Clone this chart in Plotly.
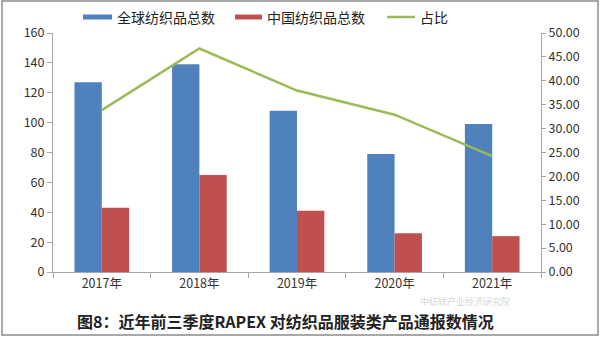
import plotly.graph_objects as go

categories = ["2017年", "2018年", "2019年", "2020年", "2021年"]
global_total = [127, 139, 108, 79, 99]
china_total = [43, 65, 41, 26, 24]
share = [33.86, 46.76, 37.96, 32.91, 24.24]

left_ticks = [0, 20, 40, 60, 80, 100, 120, 140, 160]
right_ticks = [0, 5, 10, 15, 20, 25, 30, 35, 40, 45, 50]

names = ["全球纺织品总数", "中国纺织品总数", "占比"]
colors = ["#4F81BD", "#C0504D", "#9BBB59"]

FONT = "Noto Sans CJK SC, DejaVu Sans, sans-serif"

L, R, T, B = 53, 59, 33, 65
W, H = 600, 337
PW, PH = W - L - R, H - T - B

def px(x):
    return (x - L) / PW

def py(y):
    return (H - B - y) / PH

fig = go.Figure()
fig.add_trace(go.Bar(x=categories, y=global_total, name=names[0],
                     marker=dict(color=colors[0], line=dict(width=0))))
fig.add_trace(go.Bar(x=categories, y=china_total, name=names[1],
                     marker=dict(color=colors[1], line=dict(width=0))))
fig.add_trace(go.Scatter(x=categories, y=share, name=names[2], yaxis="y2",
                         mode="lines", line=dict(color=colors[2], width=2.5)))

fig.update_layout(
    width=W, height=H,
    margin=dict(l=L, r=R, t=T, b=B),
    paper_bgcolor="white", plot_bgcolor="white",
    font=dict(family=FONT, size=12, color="#333333"),
    barmode="group", bargap=0.44, bargroupgap=0,
    showlegend=False,
    xaxis=dict(showline=True, linecolor="#A6A6A6", linewidth=1,
               ticks="outside", ticklen=5, tickcolor="#A6A6A6",
               tickson="boundaries", showgrid=False,
               tickfont=dict(size=12.5, color="#333333")),
    yaxis=dict(range=[0, 160], tickvals=left_ticks, showline=True,
               linecolor="#A6A6A6", linewidth=1, ticks="outside", ticklen=5,
               tickcolor="#A6A6A6", showgrid=False, zeroline=False,
               tickfont=dict(size=12.5, color="#333333")),
    yaxis2=dict(range=[0, 50], tickvals=right_ticks, overlaying="y", side="right",
                showline=True, linecolor="#A6A6A6", linewidth=1, ticks="outside",
                ticklen=4, tickcolor="#A6A6A6", showgrid=False, zeroline=False,
                tickformat=".2f", tickfont=dict(size=12.5, color="#333333")),
)

# custom legend matching the wide swatches of the reference
legend_items = [(83, 112, 115), (235, 262, 265), (387, 415, 418)]
for i, (sx0, sx1, tx) in enumerate(legend_items):
    if i < 2:
        fig.add_shape(type="rect", xref="paper", yref="paper",
                      x0=px(sx0), x1=px(sx1), y0=py(19.5), y1=py(14.5),
                      fillcolor=colors[i], line=dict(width=0))
    else:
        fig.add_shape(type="line", xref="paper", yref="paper",
                      x0=px(sx0), x1=px(sx1), y0=py(17), y1=py(17),
                      line=dict(color=colors[i], width=2.5))
    fig.add_annotation(text=names[i], xref="paper", yref="paper",
                       x=px(tx), y=py(17), xanchor="left", yanchor="middle",
                       showarrow=False,
                       font=dict(size=14, color="#222222", family=FONT))

fig.add_annotation(text="<b>图8：近年前三季度RAPEX 对纺织品服装类产品通报数情况</b>",
                   xref="paper", yref="paper", x=px(285), y=py(321), xanchor="center",
                   yanchor="middle", showarrow=False,
                   font=dict(size=16, color="#222222", family=FONT))
fig.add_annotation(text="中纺联产业经济研究院",
                   xref="paper", yref="paper", x=px(512), y=py(301), xanchor="right",
                   yanchor="middle", showarrow=False, opacity=0.4,
                   font=dict(size=9, color="#9A9A9A", family=FONT))

# outer border frame
fig.add_shape(type="rect", xref="paper", yref="paper",
              x0=px(2), x1=px(598), y0=py(335), y1=py(1),
              line=dict(color="#8C8C8C", width=1.5))

fig.write_html("out.html")
